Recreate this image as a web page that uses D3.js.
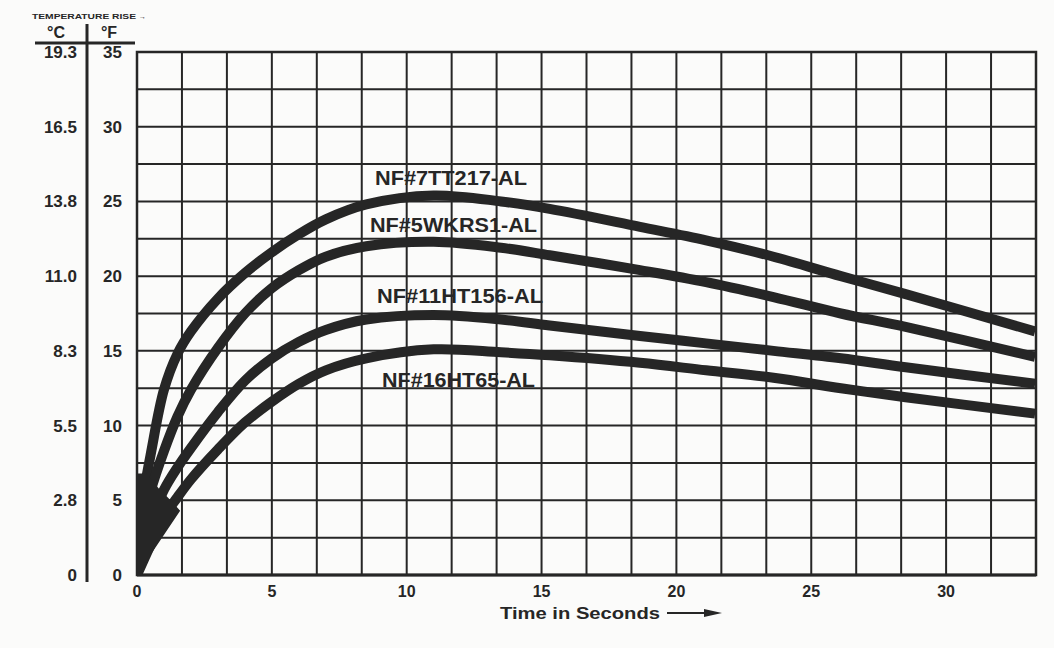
<!DOCTYPE html>
<html>
<head>
<meta charset="utf-8">
<script src="https://cdn.jsdelivr.net/npm/d3@7"></script>
<style>
  body { margin: 0; background: #fbfbfa; }
  svg { display: block; }
  text { font-family: "Liberation Sans", Arial, sans-serif; font-weight: bold; fill: #262626; }
</style>
</head>
<body>
<script>
// time in seconds, temperature rise in degrees F
var time = [0, 0.5, 1, 1.5, 2, 3, 4, 5, 6, 7, 8.5, 11, 13.5, 15.3, 18.65, 21.1, 23.6, 26.1, 28.5, 33.3];
var nf7tt217 = [3, 8.0, 12.4, 14.8, 16.3, 18.5, 20.2, 21.6, 22.8, 23.8, 24.8, 25.4, 25.0, 24.5, 23.3, 22.4, 21.3, 20.0, 18.8, 16.3];
var nf5wkrs1 = [2, 5.6, 8.3, 10.6, 12.4, 15.2, 17.5, 19.2, 20.4, 21.3, 22.0, 22.3, 21.9, 21.4, 20.4, 19.6, 18.6, 17.5, 16.6, 14.6];
var nf11ht156 = [1, 3.5, 5.7, 7.2, 8.5, 10.9, 13.0, 14.5, 15.6, 16.4, 17.1, 17.4, 17.1, 16.7, 16.0, 15.5, 15.0, 14.5, 13.9, 12.8];
var nf16ht65 = [0, 2.0, 3.9, 5.2, 6.4, 8.4, 10.2, 11.6, 12.8, 13.7, 14.5, 15.1, 14.9, 14.7, 14.2, 13.7, 13.2, 12.5, 11.9, 10.8];
var seriesNames = ["NF#7TT217-AL", "NF#5WKRS1-AL", "NF#11HT156-AL", "NF#16HT65-AL"];

// dark blob where the curves leave the origin
var wedge = [[0, 0], [0, 6.8], [0.35, 6.8], [0.8, 5.8], [1.3, 4.9], [1.6, 4.3]];

var xTicks = [0, 5, 10, 15, 20, 25, 30];
var fTicks = [0, 5, 10, 15, 20, 25, 30, 35];
var cLabels = ["0", "2.8", "5.5", "8.3", "11.0", "13.8", "16.5", "19.3"];
var xGrid = d3.range(0, 21).map(function(i) { return i * 5 / 3; });
var yGrid = d3.range(0, 15).map(function(i) { return i * 2.5; });

var ink = "#262626";
var W = 1054, H = 648;
var x = d3.scaleLinear().domain([0, 100 / 3]).range([137, 1036]);
var y = d3.scaleLinear().domain([0, 35]).range([575, 52]);

var svg = d3.select("body").append("svg")
    .attr("width", W)
    .attr("height", H);

// grid
var grid = svg.append("g");
grid.selectAll(".vg").data(xGrid).enter().append("line")
    .attr("x1", function(d) { return x(d); })
    .attr("x2", function(d) { return x(d); })
    .attr("y1", y(0)).attr("y2", y(35))
    .attr("stroke", ink).attr("stroke-width", 2);
grid.selectAll(".hg").data(yGrid).enter().append("line")
    .attr("y1", function(d) { return y(d); })
    .attr("y2", function(d) { return y(d); })
    .attr("x1", x(0)).attr("x2", x(100 / 3))
    .attr("stroke", ink).attr("stroke-width", 2);
svg.append("rect")
    .attr("x", x(0)).attr("y", y(35))
    .attr("width", x(100 / 3) - x(0))
    .attr("height", y(0) - y(35))
    .attr("fill", "none").attr("stroke", ink).attr("stroke-width", 2.5);
svg.append("line")
    .attr("x1", x(0)).attr("x2", x(100 / 3))
    .attr("y1", y(0)).attr("y2", y(0))
    .attr("stroke", ink).attr("stroke-width", 3);

// curves
svg.append("clipPath").attr("id", "plot").append("rect")
    .attr("x", x(0)).attr("y", y(35))
    .attr("width", x(100 / 3) - x(0)).attr("height", y(0) - y(35));

var line = d3.line()
    .x(function(d) { return x(d[0]); })
    .y(function(d) { return y(d[1]); })
    .curve(d3.curveCatmullRom.alpha(0.5));

var curves = [nf7tt217, nf5wkrs1, nf11ht156, nf16ht65];
var cg = svg.append("g").attr("clip-path", "url(#plot)");
cg.selectAll("path.curve").data(curves).enter().append("path")
    .attr("class", "curve")
    .attr("d", function(vals) { return line(time.map(function(t, i) { return [t, vals[i]]; })); })
    .attr("fill", "none")
    .attr("stroke", ink)
    .attr("stroke-width", 10);

cg.append("path")
    .attr("d", d3.line().x(function(d) { return x(d[0]); }).y(function(d) { return y(d[1]); })(wedge) + "Z")
    .attr("fill", ink);

// curve labels
var labelPos = [[375, 185, 152], [370, 232, 167], [377, 303, 166], [382, 387, 153]];
svg.selectAll("text.lbl").data(seriesNames).enter().append("text")
    .attr("class", "lbl")
    .attr("x", function(d, i) { return labelPos[i][0]; })
    .attr("y", function(d, i) { return labelPos[i][1]; })
    .attr("textLength", function(d, i) { return labelPos[i][2]; })
    .attr("lengthAdjust", "spacingAndGlyphs")
    .style("font-size", "20px")
    .text(function(d) { return d; });

// x axis labels
svg.selectAll("text.xt").data(xTicks).enter().append("text")
    .attr("class", "xt")
    .attr("x", function(d) { return x(d); })
    .attr("y", 597)
    .attr("text-anchor", "middle")
    .style("font-size", "16px")
    .text(function(d) { return d; });

svg.append("text")
    .attr("x", 500).attr("y", 619)
    .attr("textLength", 160).attr("lengthAdjust", "spacingAndGlyphs")
    .style("font-size", "17px")
    .text("Time in Seconds");
svg.append("line")
    .attr("x1", 667).attr("x2", 708).attr("y1", 613).attr("y2", 613)
    .attr("stroke", ink).attr("stroke-width", 2);
svg.append("path")
    .attr("d", "M704,609 L722,613 L704,617 Z")
    .attr("fill", ink);

// left axes: degrees F and degrees C
svg.selectAll("text.ft").data(fTicks).enter().append("text")
    .attr("class", "ft")
    .attr("x", 122)
    .attr("y", function(d) { return y(d) + 6; })
    .attr("text-anchor", "end")
    .style("font-size", "17px")
    .text(function(d) { return d; });
svg.selectAll("text.ct").data(fTicks).enter().append("text")
    .attr("class", "ct")
    .attr("x", 77)
    .attr("y", function(d) { return y(d) + 6; })
    .attr("text-anchor", "end")
    .style("font-size", "17px")
    .text(function(d, i) { return cLabels[i]; });

svg.append("line")
    .attr("x1", 87).attr("x2", 87).attr("y1", 24).attr("y2", 582)
    .attr("stroke", ink).attr("stroke-width", 3);
svg.append("line")
    .attr("x1", 35).attr("x2", 135).attr("y1", 43).attr("y2", 43)
    .attr("stroke", ink).attr("stroke-width", 3);
svg.append("text").attr("x", 56).attr("y", 38).attr("text-anchor", "middle")
    .style("font-size", "16px").text("°C");
svg.append("text").attr("x", 109).attr("y", 38).attr("text-anchor", "middle")
    .style("font-size", "16px").text("°F");
svg.append("text").attr("x", 32).attr("y", 19)
    .attr("textLength", 104).attr("lengthAdjust", "spacingAndGlyphs")
    .style("font-size", "7px").text("TEMPERATURE RISE");
svg.append("text").attr("x", 139).attr("y", 19)
    .style("font-size", "7px").text("→");
</script>
</body>
</html>
